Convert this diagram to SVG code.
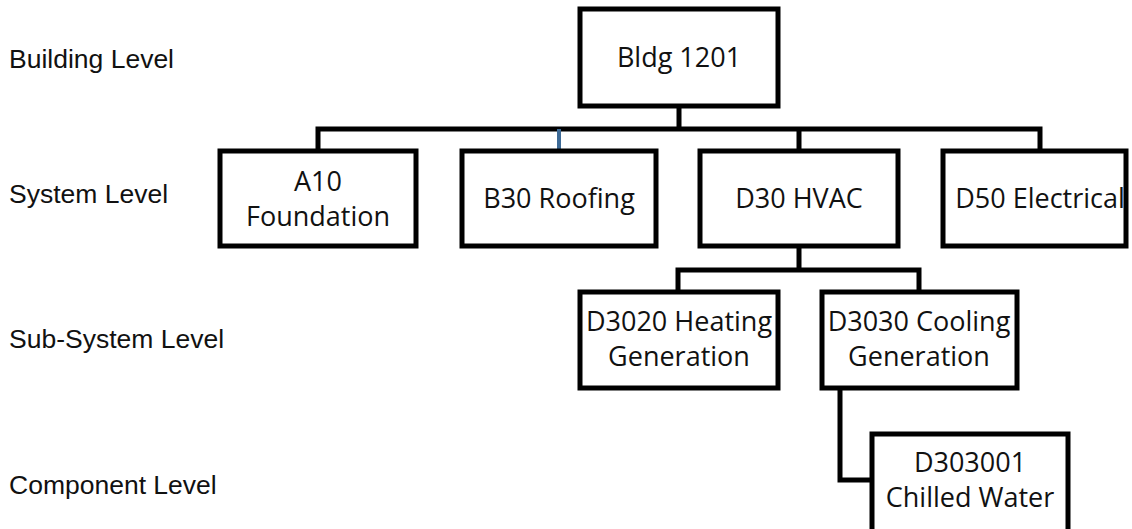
<svg xmlns="http://www.w3.org/2000/svg" width="1132" height="529" viewBox="0 0 1132 529">
<style>
.box{fill:#fff;stroke:#000;stroke-width:5}
.t{font-family:"Open Sans","Liberation Sans",sans-serif;font-size:27px;fill:#111;text-anchor:middle}
.lvl{font-family:"Liberation Sans",Arial,sans-serif;font-size:26.5px;fill:#111}
.c{fill:none;stroke:#000;stroke-width:5}
</style>
<rect width="1132" height="529" fill="#fff"/>
<g id="levels">
<text class="lvl" x="9" y="68">Building Level</text>
<text class="lvl" x="9" y="203">System Level</text>
<text class="lvl" x="9" y="348">Sub-System Level</text>
<text class="lvl" x="9" y="494">Component Level</text>
</g>
<g id="connectors">
<path class="c" d="M679 106V129M318 151V129H1040V151M799 129V151"/>
<path d="M559 129V150" stroke="#3d6a96" stroke-width="4"/>
<path class="c" d="M799 246V270M678 292V270H919V292"/>
<path class="c" d="M840 388V480H872"/>
</g>
<g id="bldg1201"><rect class="box" x="580" y="9" width="198" height="97"/><text class="t" x="679" y="67">Bldg 1201</text></g>
<g id="a10"><rect class="box" x="220" y="151" width="196" height="95"/><text class="t" x="318" y="191">A10</text><text class="t" x="318" y="226">Foundation</text></g>
<g id="b30"><rect class="box" x="462" y="151" width="194" height="95"/><text class="t" x="559" y="208">B30 Roofing</text></g>
<g id="d30"><rect class="box" x="700" y="151" width="198" height="95"/><text class="t" x="799" y="208">D30 HVAC</text></g>
<g id="d50"><rect class="box" x="943" y="151" width="183" height="95"/><text class="t" x="1040" y="208">D50 Electrical</text></g>
<g id="d3020"><rect class="box" x="580" y="292" width="198" height="96"/><text class="t" x="679" y="331">D3020 Heating</text><text class="t" x="679" y="366">Generation</text></g>
<g id="d3030"><rect class="box" x="822" y="292" width="195" height="96"/><text class="t" x="919" y="331">D3030 Cooling</text><text class="t" x="919" y="366">Generation</text></g>
<g id="d303001"><rect class="box" x="872" y="434" width="196" height="110"/><text class="t" x="970" y="472">D303001</text><text class="t" x="970" y="507">Chilled Water</text></g>
</svg>
